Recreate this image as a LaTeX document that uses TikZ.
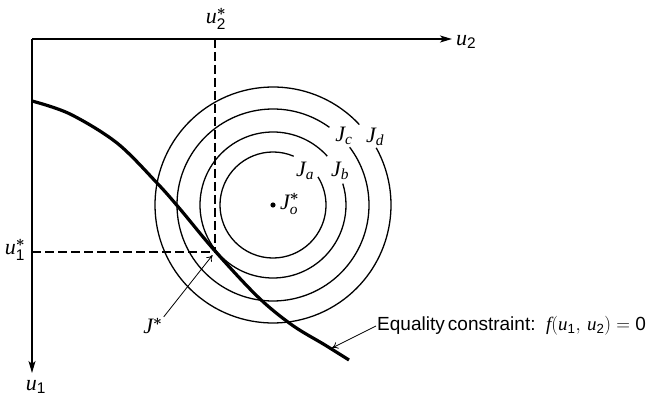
\RequirePackage{fix-cm}
\documentclass[tikz,border=0pt]{standalone}
\usepackage{amsmath}
\usepackage{fontspec}
\setsansfont{Liberation Sans}
\newfontfamily\labit[Scale=1]{Liberation Serif}
\usetikzlibrary{arrows.meta}
\newcommand{\sfd}[1]{\text{\sffamily #1}}
\newcommand{\lv}[1]{\text{\labit\itshape #1}}
\newcommand{\bst}{\boldsymbol{\ast}}
\begin{document}
\begin{tikzpicture}[x=1pt,y=1pt,
  axisline/.style={line width=1.3pt,-{Stealth[length=12pt,width=7pt,inset=3pt]}},
  guide/.style={line width=1.1pt,dash pattern=on 9pt off 4pt},
  level/.style={line width=1.3pt},
  constraint/.style={line width=3.2pt},
  pointer/.style={line width=0.8pt,-{To[length=6pt,width=7pt]}},
  lab/.style={inner sep=1pt,font=\fontsize{22}{26}\selectfont},
  txt/.style={inner sep=1pt,font=\fontsize{19}{23}\selectfont\sffamily}
]
\useasboundingbox (0,0) rectangle (657,397);
% key coordinates
\coordinate (O) at (32,358);
\coordinate (U2end) at (452,358);
\coordinate (U1end) at (32,24);
\coordinate (C) at (273,192);
\coordinate (T) at (215,145);
\coordinate (Tx) at (215,358);
\coordinate (Ty) at (32,145);
\coordinate (Cpt) at (332,49);
% axes
\draw[axisline] (O) -- (U2end);
\draw[axisline] (O) -- (U1end);
\node[lab,anchor=west] (u2) at (455,355) {$\lv{u}_{\sfd{2}}$};
\node[lab] (u1) at (36,10) {$\lv{u}_{\sfd{1}}$};
\node[lab] (u2s) at (216,378) {$\lv{u}_{\sfd{2}}^{\bst}$};
\node[lab] (u1s) at (15,147) {$\lv{u}_{\sfd{1}}^{\bst}$};
% dashed guides
\draw[guide] (Tx) -- (T);
\draw[guide] (Ty) -- (T);
% level curves with gaps
\draw[level] (C) ++(67:53) arc[start angle=67,end angle=392,radius=53];
\draw[level] (C) ++(42:73) arc[start angle=42,end angle=377,radius=73];
\draw[level] (C) ++(54:96) arc[start angle=54,end angle=397,radius=96];
\draw[level] (C) ++(43:118) arc[start angle=43,end angle=389,radius=118];
\node[lab] (Ja) at (305,226) {$\lv{J}_{\lv{a}}$};
\node[lab] (Jb) at (340,226) {$\lv{J}_{\lv{b}}$};
\node[lab] (Jc) at (344,261) {$\lv{J}_{\lv{c}}$};
\node[lab] (Jd) at (375,260) {$\lv{J}_{\lv{d}}$};
\fill (C) circle[radius=2.6];
\node[lab,anchor=west] (Jo) at (279,193) {$\lv{J}_{\lv{o}}^{\bst}$};
% constraint curve
\draw[constraint] plot[smooth,tension=0.55] coordinates {(32,296) (70,283) (117,254) (157,214) (180,188) (215,146) (258,100) (292,72) (325,52) (349,37)};
% pointers
\node[lab] (Js) at (153,71) {$\lv{J}^{\bst}$};
\draw[pointer,shorten >=4pt] (Js.north east) -- (T);
\node[txt,anchor=west] (eq) at (376,71) {Equality\,constraint:\ \ $\lv{f}(\lv{u}_{\sfd{1}},\,\lv{u}_{\sfd{2}})=\sfd{0}$};
\draw[pointer] (eq.west) -- (Cpt);
\end{tikzpicture}
\end{document}
